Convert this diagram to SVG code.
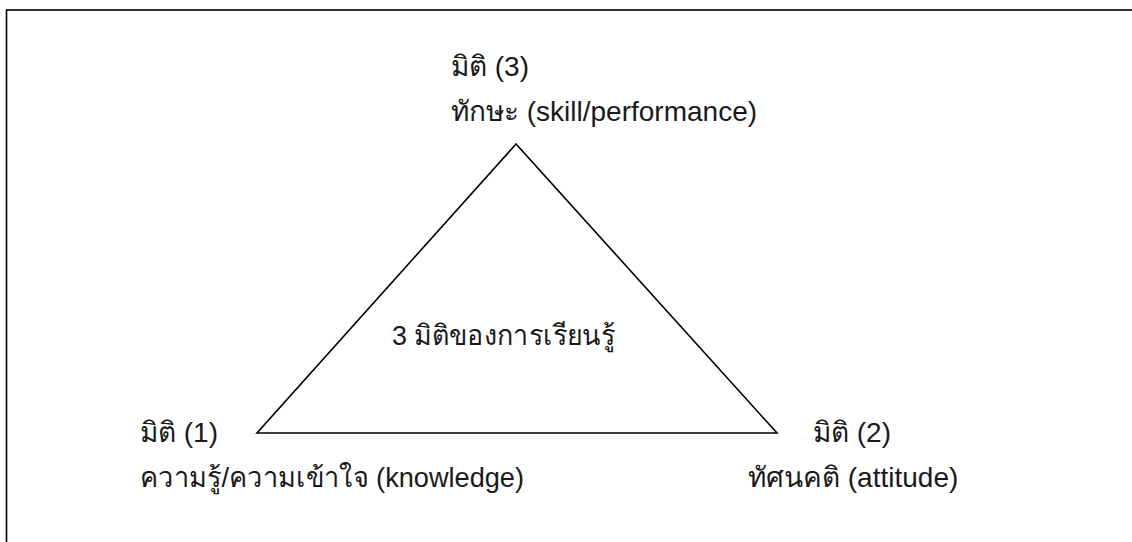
<svg xmlns="http://www.w3.org/2000/svg" width="1132" height="542" viewBox="0 0 1132 542">
  <style>
    .t { font-family: "Liberation Sans", "Noto Sans", "DejaVu Sans", sans-serif; font-size: 28px; fill: #1a1a1a; }
    .ln { fill: none; stroke: #000; stroke-width: 1.6; }
  </style>
  <rect x="0" y="0" width="1132" height="542" fill="#fff"/>
  <rect id="frame" class="ln" x="6.5" y="10" width="1200" height="600"/>
  <g id="connectors">
    <polygon id="triangle" class="ln" points="516,144 257,433 777,433"/>
  </g>
  <g id="node-center">
    <text class="t" x="392" y="345" textLength="223" lengthAdjust="spacingAndGlyphs">3 มิติของการเรียนรู้</text>
  </g>
  <g id="node-3">
    <text class="t" x="451" y="76">มิติ (3)</text>
    <text class="t" x="451" y="121">ทักษะ (skill/performance)</text>
  </g>
  <g id="node-1">
    <text class="t" x="140" y="442">มิติ (1)</text>
    <text class="t" x="140" y="487" textLength="384" lengthAdjust="spacingAndGlyphs">ความรู้/ความเข้าใจ (knowledge)</text>
  </g>
  <g id="node-2">
    <text class="t" x="813" y="442">มิติ (2)</text>
    <text class="t" x="748" y="487">ทัศนคติ (attitude)</text>
  </g>
</svg>
